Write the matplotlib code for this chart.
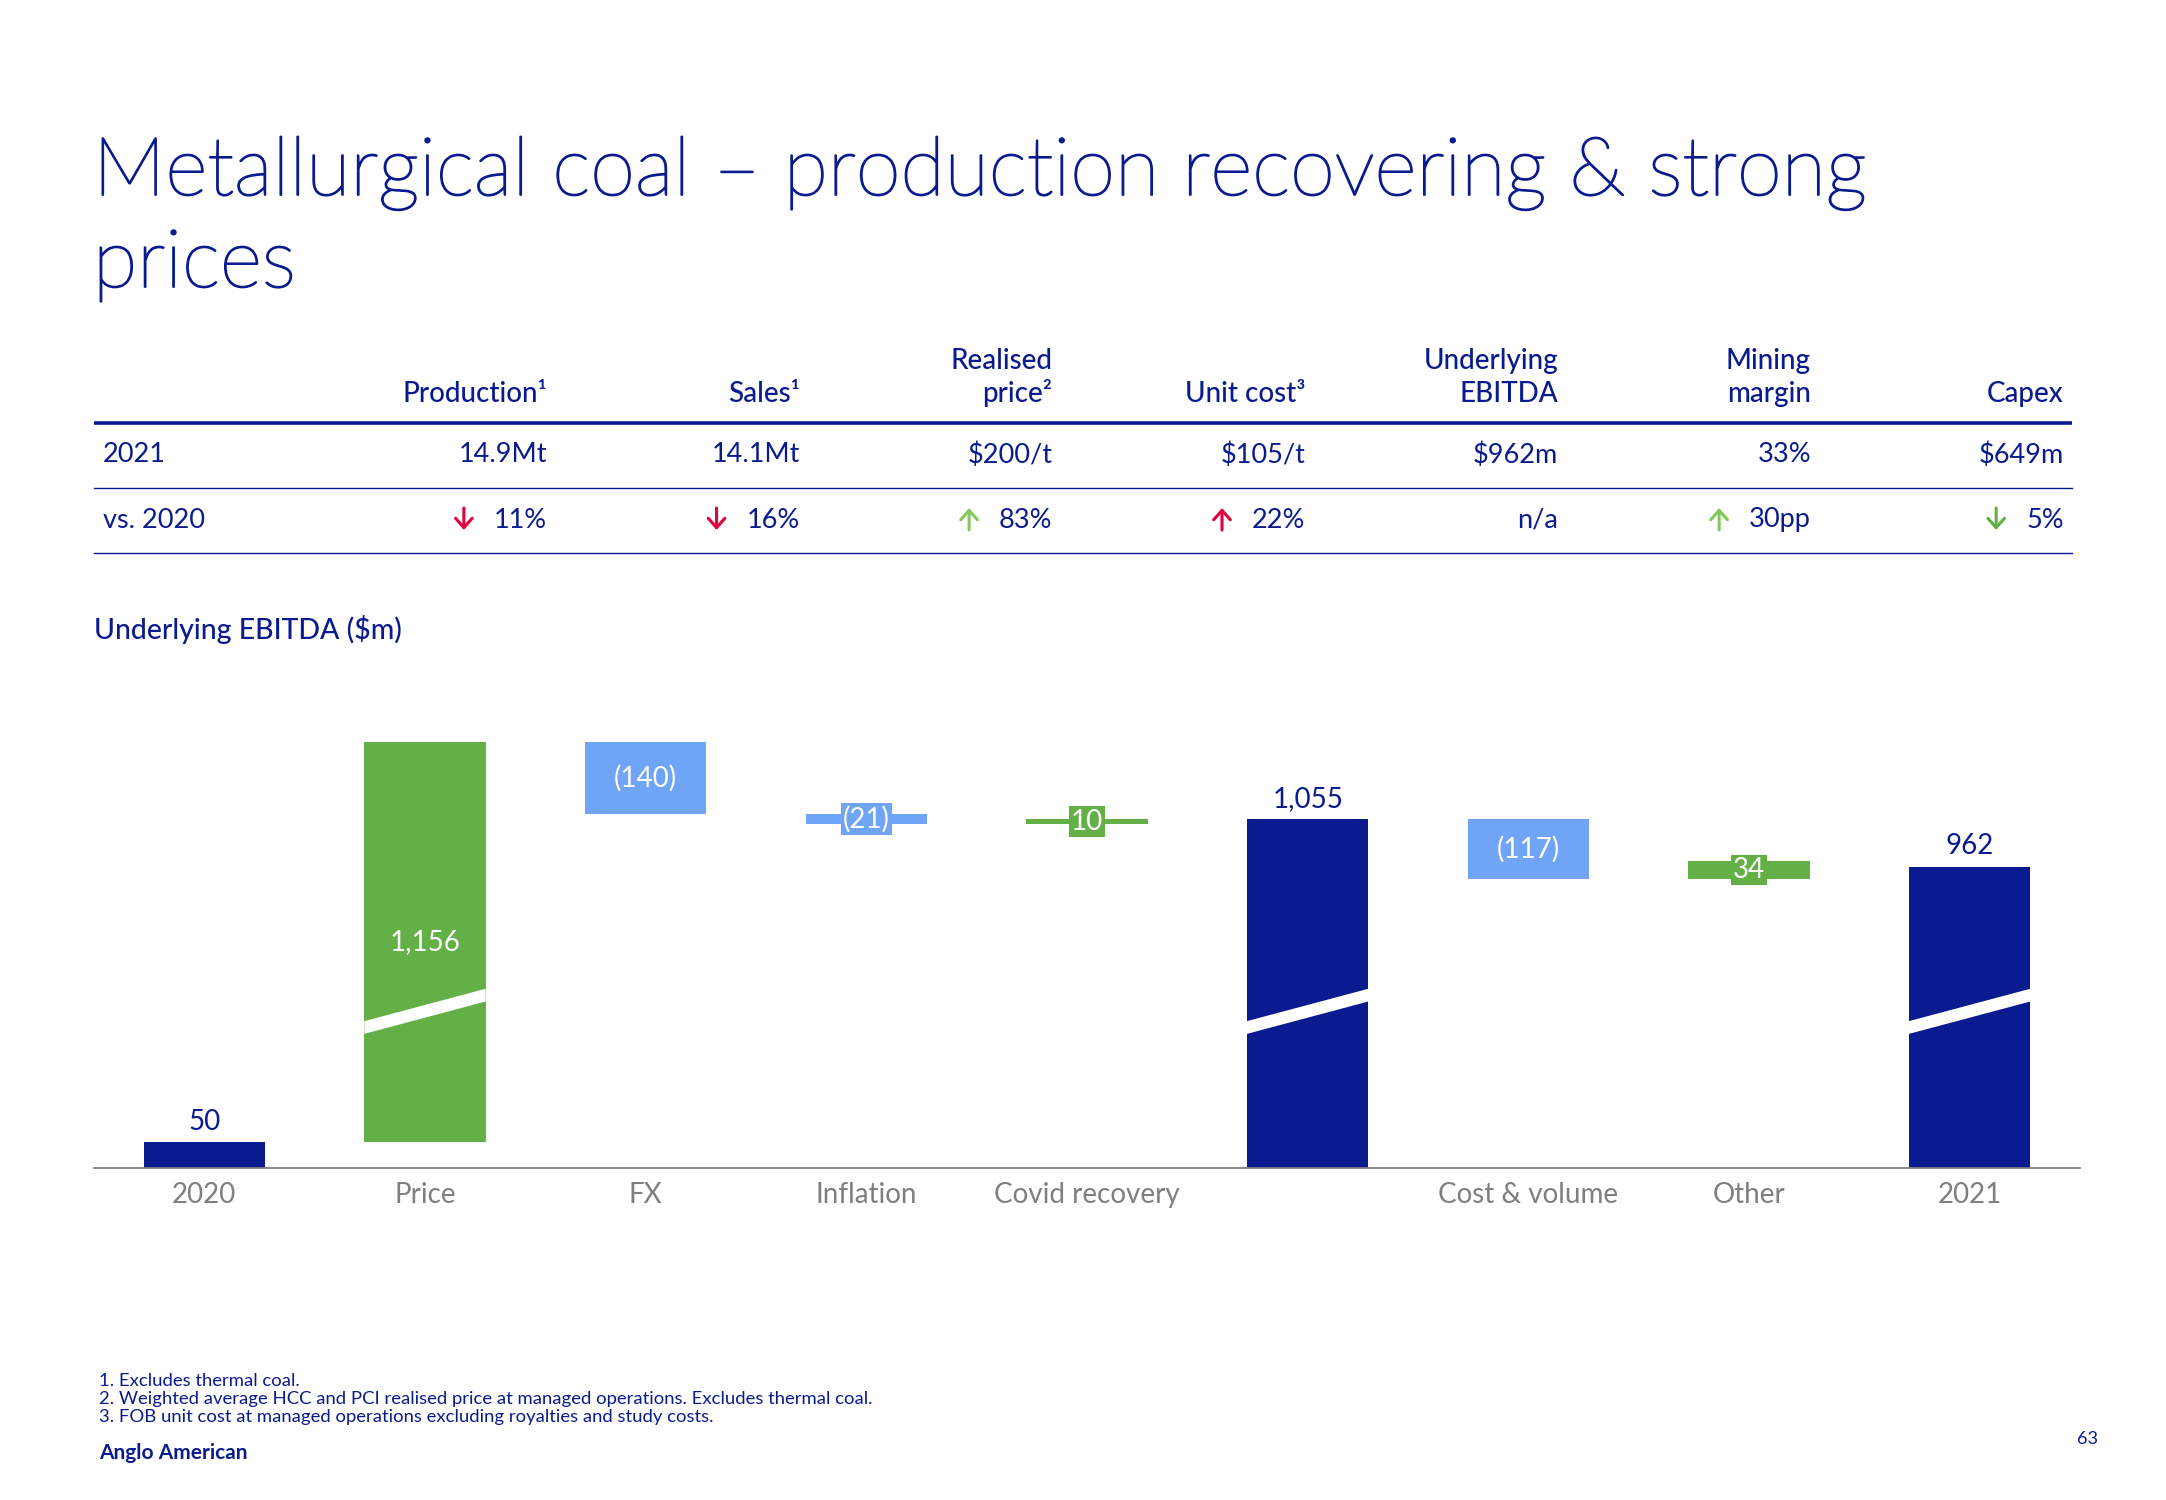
import matplotlib
matplotlib.use("Agg")
import matplotlib.pyplot as plt
import matplotlib.patheffects as pe
from matplotlib.patches import Polygon


FIG_W, FIG_H = 2166, 1500
DPI = 100

NAVY = "#0A1A8F"
GREEN = "#62B046"
LIGHT_BLUE = "#6FA4F6"
GREY = "#7F7F7F"
RED = "#E2003D"
LIGHT_GREEN = "#82C85A"

TITLE_LINES = ["Metallurgical coal – production recovering & strong", "prices"]
CHART_TITLE = "Underlying EBITDA ($m)"

# summary table
table_headers = ["Production¹", "Sales¹", "Realised\nprice²", "Unit cost³",
                 "Underlying\nEBITDA", "Mining\nmargin", "Capex"]
row_labels = ["2021", "vs. 2020"]
values_2021 = ["14.9Mt", "14.1Mt", "$200/t", "$105/t", "$962m", "33%", "$649m"]
changes_vs_2020 = ["11%", "16%", "83%", "22%", "n/a", "30pp", "5%"]
change_dirs = ["down", "down", "up", "up", "", "up", "down"]
arrow_colors = [RED, RED, LIGHT_GREEN, RED, None, LIGHT_GREEN, GREEN]

# EBITDA bridge
steps = ["2020", "Price", "FX", "Inflation", "Covid recovery", "",
         "Cost & volume", "Other", "2021"]
ebitda = [50, 1156, -140, -21, 10, 1055, -117, 34, 962]
is_total = [True, False, False, False, False, True, False, False, True]

footnotes = [
    "1. Excludes thermal coal.",
    "2. Weighted average HCC and PCI realised price at managed operations. Excludes thermal coal.",
    "3. FOB unit cost at managed operations excluding royalties and study costs.",
]
BRAND = "Anglo American"
PAGE = "63"

AXIS_CUT = 372   # units taken out of the broken y axis
CUT_ABOVE = 500


def squash(v):
    return v - AXIS_CUT if v > CUT_ABOVE else v


def fmt(v):
    s = f"{abs(v):,}"
    return f"({s})" if v < 0 else s


def waterfall_spans():
    spans = []
    running = 0
    for value, total in zip(ebitda, is_total):
        if total:
            spans.append((0, value))
            running = value
        else:
            spans.append((running, running + value))
            running += value
    return spans


def draw_header(canvas):
    thicken = [pe.withStroke(linewidth=1.3, foreground=NAVY)]
    for k, line in enumerate(TITLE_LINES):
        canvas.text(93, 195 + k * 92, line, fontsize=58.5, color=NAVY,
                    fontweight="light", va="baseline", ha="left",
                    path_effects=thicken)


def draw_table(fig, canvas):
    first_right, step = 547, 252.8
    rights = [first_right + i * step for i in range(len(table_headers))]

    for right, header in zip(rights, table_headers):
        lines = header.split("\n")
        for k, line in enumerate(reversed(lines)):
            canvas.text(right, 402 - k * 33, line, fontsize=20, color=NAVY,
                        fontweight="medium", ha="right", va="baseline")

    canvas.plot([94, 2072], [423, 423], color=NAVY, lw=2.6, solid_capstyle="butt")
    canvas.plot([94, 2072], [488, 488], color=NAVY, lw=1.0)
    canvas.plot([94, 2072], [553, 553], color=NAVY, lw=1.0)

    canvas.text(103, 455, row_labels[0], fontsize=19.5, color=NAVY, va="center", ha="left")
    canvas.text(103, 520, row_labels[1], fontsize=19.5, color=NAVY, va="center", ha="left")

    renderer = fig.canvas.get_renderer()
    for right, val, chg, direction, acol in zip(rights, values_2021, changes_vs_2020,
                                                change_dirs, arrow_colors):
        canvas.text(right, 455, val, fontsize=19.5, color=NAVY, ha="right", va="center")
        t = canvas.text(right, 520, chg, fontsize=19.5, color=NAVY, ha="right", va="center")
        if direction:
            bb = t.get_window_extent(renderer)
            cx = bb.x0 - 30
            tail, tip = (508, 530) if direction == "down" else (530, 508)
            canvas.annotate("", xy=(cx, tip), xytext=(cx, tail),
                            arrowprops=dict(arrowstyle="->,head_length=0.34,head_width=0.3",
                                            color=acol, lw=2.2, shrinkA=0, shrinkB=0,
                                            mutation_scale=20))


def draw_waterfall(fig):
    base_px, top_px = 1167.5, 700
    ax = fig.add_axes([94 / FIG_W, 1 - base_px / FIG_H,
                       (2080 - 94) / FIG_W, (base_px - top_px) / FIG_H])
    width = 0.55
    spans = waterfall_spans()

    for i, ((start, end), value, total) in enumerate(zip(spans, ebitda, is_total)):
        lo, hi = sorted((start, end))
        if total:
            color = NAVY
        elif value >= 0:
            color = GREEN
        else:
            color = LIGHT_BLUE
        ax.bar(i, squash(hi) - squash(lo), bottom=squash(lo), width=width,
               color=color, zorder=2)

        if hi > CUT_ABOVE and lo < CUT_ABOVE:
            left, right = i - width / 2, i + width / 2
            y0, y1, t = 274.5, 338, 25
            ax.add_patch(Polygon([(left, y0 - t / 2), (right, y1 - t / 2),
                                  (right, y1 + t / 2), (left, y0 + t / 2)],
                                 closed=True, fc="white", ec="none", zorder=3))

        if total:
            ax.annotate(fmt(value), (i, squash(hi)), xytext=(0, 9),
                        textcoords="offset points", ha="center", va="baseline",
                        fontsize=20, color=NAVY)
        else:
            mid = (squash(lo) + squash(hi)) / 2
            ax.text(i, mid, fmt(value), ha="center", va="center", fontsize=20,
                    color="white", zorder=4,
                    bbox=dict(boxstyle="square,pad=0.08", fc=color, ec="none"))

    ax.set_xlim(-0.5, len(steps) - 0.5)
    ax.set_ylim(0, (base_px - top_px) / 0.51)
    ax.set_xticks(range(len(steps)))
    ax.set_xticklabels(steps, fontsize=20, color=GREY)
    ax.tick_params(axis="x", length=0, pad=10.5)
    ax.set_yticks([])
    for side in ["top", "left", "right"]:
        ax.spines[side].set_visible(False)
    ax.spines["bottom"].set_color(GREY)
    ax.spines["bottom"].set_linewidth(1.3)
    ax.patch.set_alpha(0)


def draw_footer(canvas):
    canvas.text(94, 630, CHART_TITLE, fontsize=20.5, color=NAVY, fontweight="medium",
                ha="left", va="center")
    for k, note in enumerate(footnotes):
        canvas.text(99, 1381 + k * 18, note, fontsize=13.3, color=NAVY,
                    ha="left", va="center")
    canvas.text(99, 1453, BRAND, fontsize=15, color=NAVY, fontweight="bold",
                ha="left", va="center")
    canvas.text(2087, 1439, PAGE, fontsize=13, color=NAVY, ha="center", va="center")


def main():
    plt.rcParams["font.family"] = ["Lato", "DejaVu Sans"]
    fig = plt.figure(figsize=(FIG_W / DPI, FIG_H / DPI), dpi=DPI)
    fig.patch.set_facecolor("white")

    canvas = fig.add_axes([0, 0, 1, 1])
    canvas.set_xlim(0, FIG_W)
    canvas.set_ylim(FIG_H, 0)
    canvas.axis("off")

    draw_header(canvas)
    draw_table(fig, canvas)
    draw_waterfall(fig)
    draw_footer(canvas)

    fig.savefig("out.png", dpi=DPI, facecolor="white")
    plt.close(fig)


if __name__ == "__main__":
    main()
